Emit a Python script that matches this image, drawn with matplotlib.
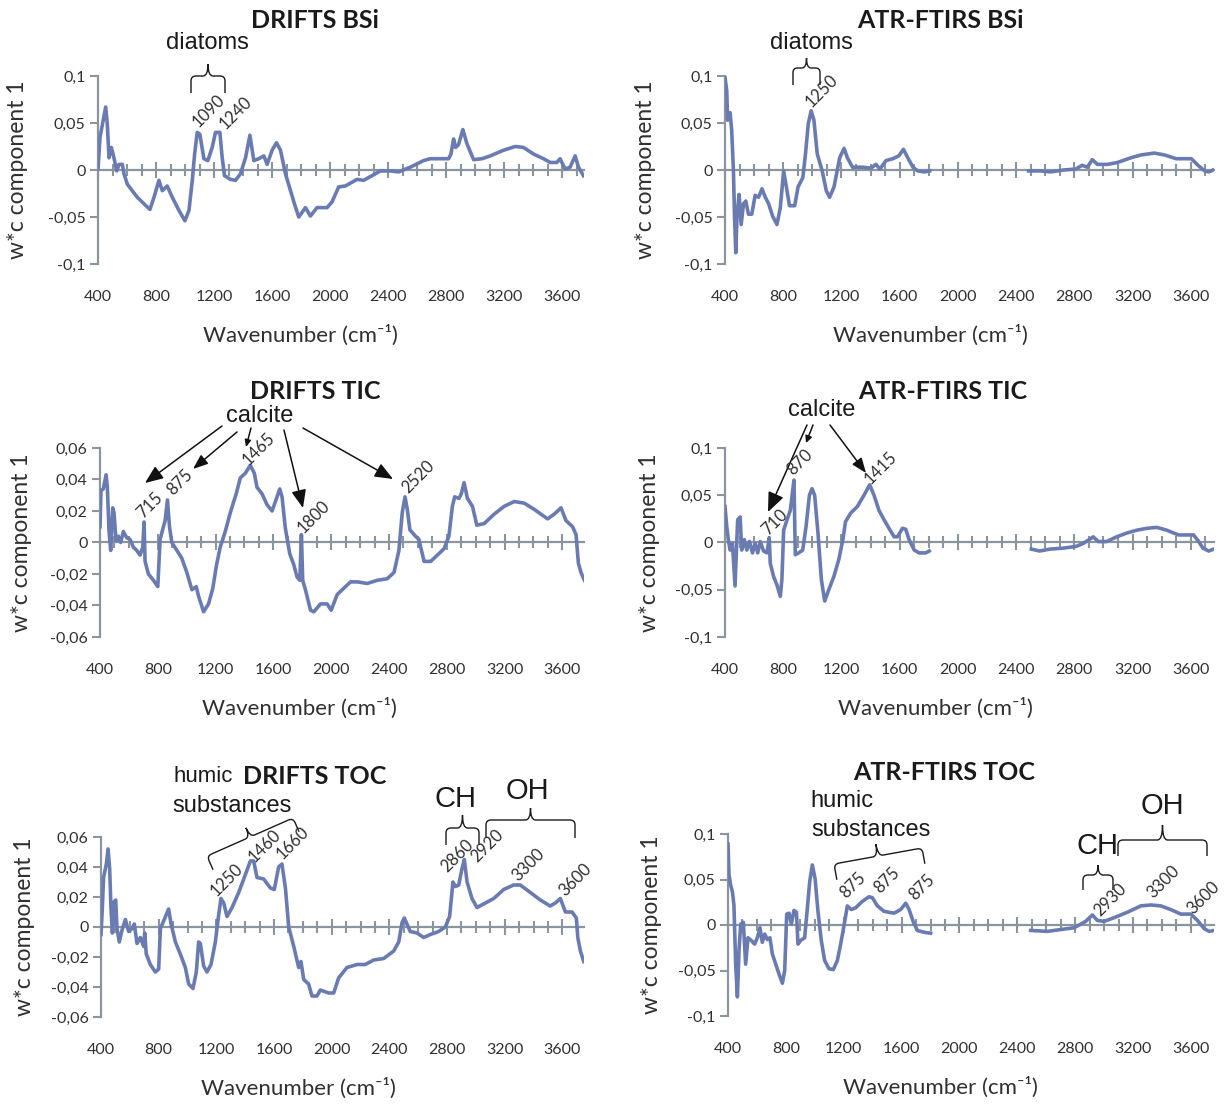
import numpy as np
import matplotlib
matplotlib.use("Agg")
import matplotlib.pyplot as plt
import matplotlib.transforms as mtransforms
from matplotlib.path import Path
from matplotlib.patches import PathPatch, FancyArrowPatch
from matplotlib.ticker import MultipleLocator

plt.rcParams['font.family'] = ['Lato', 'DejaVu Sans']

# ---- data (wavenumber in cm-1, w*c component 1) ----
drifts_bsi_wn = [400, 414, 453, 464, 476, 492, 510, 529, 545, 568, 579, 602, 636, 671, 717, 758, 786, 820, 843, 877,
                 912, 958, 999, 1027, 1050, 1066, 1084, 1102, 1130, 1157, 1187, 1210, 1240, 1256, 1272, 1313, 1348, 1382, 1417, 1447,
                 1474, 1508, 1543, 1566, 1600, 1630, 1658, 1692, 1727, 1754, 1784, 1830, 1864, 1910, 1979, 2013, 2059, 2105, 2151, 2185,
                 2231, 2289, 2346, 2415, 2472, 2553, 2644, 2690, 2817, 2833, 2851, 2865, 2885, 2915, 2943, 2989, 3046, 3104, 3195, 3276,
                 3333, 3402, 3471, 3517, 3562, 3585, 3620, 3654, 3689, 3712, 3746]
drifts_bsi = [0.001, 0.035, 0.067, 0.049, 0.013, 0.024, 0.013, -0.001, 0.006, 0.006, -0.004, -0.015, -0.022, -0.029, -0.036, -0.042, -0.029, -0.011, -0.022, -0.017,
              -0.029, -0.043, -0.054, -0.043, -0.011, 0.017, 0.040, 0.038, 0.012, 0.010, 0.024, 0.040, 0.040, 0.013, -0.006, -0.010, -0.011, -0.004, 0.013, 0.037,
              0.010, 0.012, 0.015, 0.006, 0.021, 0.029, 0.021, -0.004, -0.022, -0.036, -0.050, -0.040, -0.049, -0.040, -0.040, -0.034, -0.018, -0.017, -0.013, -0.010,
              -0.011, -0.006, -0.001, -0.001, -0.002, 0.003, 0.010, 0.012, 0.012, 0.017, 0.033, 0.024, 0.027, 0.043, 0.028, 0.011, 0.012, 0.015, 0.021, 0.025,
              0.024, 0.017, 0.012, 0.008, 0.008, 0.012, 0.001, 0.003, 0.015, 0.003, -0.006]

atr_bsi_wn_a = [400, 412, 418, 435, 446, 458, 465, 474, 483, 497, 511, 527, 543, 561, 584, 607, 631, 654, 677, 700,
                727, 757, 780, 803, 826, 843, 879, 902, 935, 953, 972, 992, 1011, 1034, 1068, 1096, 1119, 1149, 1188, 1218,
                1241, 1276, 1345, 1403, 1437, 1465, 1506, 1553, 1594, 1626, 1656, 1691, 1725, 1771, 1806]
atr_bsi_a = [0.099, 0.084, 0.053, 0.061, 0.042, -0.001, -0.047, -0.088, -0.047, -0.026, -0.058, -0.036, -0.033, -0.047, -0.047, -0.027, -0.029, -0.020, -0.029, -0.036,
             -0.049, -0.058, -0.040, -0.001, -0.022, -0.038, -0.038, -0.018, -0.008, 0.017, 0.049, 0.063, 0.053, 0.017, -0.001, -0.022, -0.029, -0.018, 0.013, 0.023,
             0.013, 0.003, 0.003, 0.002, 0.006, 0.001, 0.010, 0.012, 0.015, 0.022, 0.013, 0.003, -0.001, -0.002, -0.001]
atr_bsi_wn_b = [2486, 2567, 2636, 2728, 2809, 2855, 2889, 2924, 2959, 3028, 3097, 3189, 3258, 3350, 3420, 3500, 3604, 3650, 3696, 3724, 3754]
atr_bsi_b = [-0.001, -0.001, -0.002, 0.000, 0.001, 0.005, 0.003, 0.011, 0.006, 0.006, 0.008, 0.013, 0.016, 0.018, 0.016, 0.012, 0.012, 0.005, -0.001, -0.002, 0.000]

drifts_tic_wn = [400, 407, 423, 442, 451, 462, 474, 488, 497, 511, 527, 543, 562, 585, 608, 631, 654, 677, 696, 705,
                 712, 735, 770, 800, 816, 839, 851, 867, 881, 897, 932, 966, 1001, 1036, 1066, 1082, 1117, 1151, 1181, 1205,
                 1232, 1267, 1302, 1343, 1371, 1406, 1440, 1468, 1487, 1521, 1556, 1591, 1614, 1644, 1660, 1683, 1713, 1741, 1764, 1783,
                 1794, 1803, 1822, 1857, 1880, 1926, 1972, 2000, 2042, 2088, 2134, 2180, 2250, 2319, 2388, 2435, 2469, 2492, 2511, 2527,
                 2545, 2584, 2607, 2643, 2689, 2735, 2781, 2815, 2839, 2855, 2885, 2901, 2920, 2943, 2978, 3008, 3059, 3128, 3198, 3267,
                 3336, 3406, 3498, 3544, 3591, 3625, 3671, 3695, 3711, 3729, 3753]
drifts_tic = [0.010, 0.033, 0.034, 0.043, 0.035, 0.008, -0.005, 0.022, 0.019, 0.001, 0.004, 0.000, 0.007, 0.003, 0.002, -0.003, -0.005, -0.008, -0.003, 0.013,
              -0.012, -0.020, -0.024, -0.028, 0.002, 0.010, 0.014, 0.027, 0.010, 0.000, -0.005, -0.010, -0.019, -0.030, -0.028, -0.034, -0.044, -0.039, -0.029, -0.015,
              -0.003, 0.007, 0.019, 0.031, 0.041, 0.044, 0.049, 0.044, 0.035, 0.031, 0.024, 0.020, 0.026, 0.034, 0.029, 0.009, -0.007, -0.014, -0.022, -0.024,
              0.005, -0.024, -0.030, -0.043, -0.044, -0.039, -0.039, -0.043, -0.033, -0.029, -0.025, -0.025, -0.026, -0.024, -0.023, -0.019, -0.005, 0.019, 0.029, 0.021,
              0.008, 0.004, 0.002, -0.012, -0.012, -0.008, -0.004, 0.004, 0.023, 0.029, 0.028, 0.031, 0.038, 0.028, 0.023, 0.011, 0.012, 0.018, 0.023, 0.026,
              0.025, 0.021, 0.015, 0.018, 0.022, 0.014, 0.010, 0.005, -0.013, -0.019, -0.024]

atr_tic_wn_a = [400, 412, 423, 435, 451, 469, 487, 504, 515, 533, 550, 568, 589, 607, 625, 642, 665, 688, 704, 711,
                734, 757, 780, 791, 803, 826, 849, 865, 874, 883, 906, 934, 957, 980, 998, 1016, 1039, 1062, 1085, 1113,
                1148, 1182, 1210, 1228, 1263, 1309, 1355, 1394, 1424, 1458, 1493, 1527, 1562, 1585, 1619, 1642, 1665, 1700, 1734, 1780, 1803]
atr_tic_a = [0.038, 0.017, 0.003, -0.008, -0.001, -0.046, 0.024, 0.027, -0.008, 0.003, -0.008, 0.001, -0.011, -0.001, -0.011, 0.001, -0.009, -0.011, 0.005, -0.022,
             -0.036, -0.045, -0.057, -0.039, 0.013, 0.024, 0.034, 0.055, 0.066, -0.013, -0.011, -0.008, 0.017, 0.050, 0.057, 0.050, 0.010, -0.039, -0.062, -0.050,
             -0.036, -0.018, 0.003, 0.022, 0.031, 0.038, 0.050, 0.061, 0.050, 0.034, 0.024, 0.015, 0.006, 0.006, 0.015, 0.014, 0.003, -0.008, -0.011, -0.011, -0.009]
atr_tic_wn_b = [2505, 2562, 2631, 2723, 2815, 2861, 2902, 2930, 2965, 3022, 3091, 3160, 3229, 3298, 3367, 3436, 3516, 3620, 3655, 3684, 3724, 3758]
atr_tic_b = [-0.007, -0.009, -0.007, -0.006, -0.004, -0.001, 0.003, 0.006, 0.001, 0.001, 0.006, 0.010, 0.013, 0.015, 0.016, 0.013, 0.008, 0.008, 0.001, -0.006, -0.009, -0.007]

drifts_toc_wn = [400, 407, 418, 437, 449, 460, 469, 479, 492, 502, 511, 527, 546, 569, 592, 615, 631, 650, 673, 696,
                 703, 714, 742, 777, 800, 812, 839, 869, 886, 916, 950, 985, 1008, 1038, 1061, 1077, 1089, 1112, 1135, 1163,
                 1193, 1216, 1232, 1251, 1274, 1309, 1355, 1394, 1436, 1459, 1482, 1528, 1575, 1602, 1632, 1655, 1679, 1702, 1737, 1771,
                 1787, 1806, 1840, 1863, 1898, 1921, 1979, 2014, 2048, 2106, 2176, 2233, 2291, 2361, 2430, 2465, 2488, 2504, 2522, 2545,
                 2592, 2638, 2684, 2742, 2788, 2818, 2841, 2858, 2881, 2904, 2920, 2939, 2973, 3008, 3066, 3124, 3193, 3262, 3308, 3378,
                 3447, 3516, 3551, 3586, 3621, 3667, 3697, 3707, 3725, 3748]
drifts_toc = [-0.005, 0.008, 0.033, 0.042, 0.052, 0.039, 0.013, -0.004, 0.017, 0.018, -0.001, -0.010, -0.002, 0.005, -0.003, -0.001, 0.002, -0.011, -0.007, -0.013,
              -0.004, -0.018, -0.025, -0.030, -0.028, -0.001, 0.005, 0.012, 0.002, -0.010, -0.018, -0.027, -0.038, -0.041, -0.030, -0.010, -0.011, -0.026, -0.030, -0.025,
              -0.010, 0.008, 0.019, 0.016, 0.007, 0.013, 0.023, 0.033, 0.044, 0.044, 0.033, 0.032, 0.026, 0.025, 0.040, 0.042, 0.026, 0.000, -0.013, -0.027,
              -0.023, -0.035, -0.038, -0.046, -0.046, -0.042, -0.044, -0.044, -0.034, -0.027, -0.025, -0.025, -0.022, -0.021, -0.016, -0.010, 0.003, 0.006, 0.002, -0.003,
              -0.004, -0.007, -0.005, -0.003, 0.000, 0.007, 0.030, 0.027, 0.028, 0.039, 0.045, 0.030, 0.019, 0.013, 0.016, 0.019, 0.025, 0.028, 0.028, 0.023,
              0.018, 0.014, 0.016, 0.019, 0.010, 0.010, 0.006, -0.007, -0.016, -0.023]

atr_toc_wn_a = [400, 407, 418, 430, 441, 453, 465, 476, 488, 506, 522, 538, 561, 584, 603, 621, 637, 654, 672, 690,
                707, 730, 753, 776, 792, 806, 822, 838, 856, 873, 884, 902, 930, 949, 965, 983, 1002, 1022, 1045, 1068,
                1098, 1128, 1156, 1179, 1207, 1225, 1253, 1283, 1329, 1375, 1398, 1433, 1479, 1548, 1594, 1629, 1652, 1682, 1710, 1755, 1801]
atr_toc_a = [0.089, 0.055, 0.044, 0.037, 0.022, -0.043, -0.079, -0.028, 0.001, 0.003, -0.043, -0.014, -0.017, -0.021, -0.014, -0.003, -0.019, -0.010, -0.016, -0.014,
             -0.032, -0.043, -0.054, -0.064, -0.050, 0.012, 0.013, 0.001, 0.016, 0.014, -0.021, -0.017, -0.014, 0.019, 0.048, 0.066, 0.051, 0.015, -0.017, -0.039,
             -0.048, -0.049, -0.039, -0.021, 0.004, 0.021, 0.017, 0.019, 0.026, 0.031, 0.030, 0.021, 0.015, 0.013, 0.017, 0.024, 0.017, 0.003, -0.006, -0.008, -0.009]
atr_toc_wn_b = [2493, 2608, 2700, 2793, 2839, 2873, 2919, 2954, 3000, 3069, 3161, 3254, 3323, 3392, 3461, 3530, 3600, 3646, 3692, 3726, 3760]
atr_toc_b = [-0.006, -0.007, -0.005, -0.003, 0.001, 0.004, 0.011, 0.005, 0.004, 0.008, 0.014, 0.021, 0.022, 0.021, 0.017, 0.012, 0.012, 0.005, -0.004, -0.007, -0.006]

x_ticks = [400, 800, 1200, 1600, 2000, 2400, 2800, 3200, 3600]
y_ticks_01 = [-0.1, -0.05, 0, 0.05, 0.1]
y_labels_01 = ['-0,1', '-0,05', '0', '0,05', '0,1']
y_ticks_006 = [-0.06, -0.04, -0.02, 0, 0.02, 0.04, 0.06]
y_labels_006 = ['-0,06', '-0,04', '-0,02', '0', '0,02', '0,04', '0,06']

# ---- layout helpers (pixel positions measured from top-left) ----
W, H = 1224, 1104
LINE = '#6A7BB2'
GRAY = '#8A959E'
TXT = '#303030'
ANN = 'Liberation Sans'

fig = plt.figure(figsize=(W / 100, H / 100), dpi=100)
px = mtransforms.Affine2D().scale(1 / W, -1 / H).translate(0, 1) + fig.transFigure


def ftext(x, y, s, **kw):
    fig.text(x / W, 1 - y / H, s, ha='center', va='center', **kw)


def panel(rect, segs, yticks, ylabels, xmax, ylab_x, title, title_xy, xlab_x):
    l, t, r, b = rect
    ax = fig.add_axes([l / W, 1 - b / H, (r - l) / W, (b - t) / H])
    for wn, val in segs:
        ax.plot(wn, val, color=LINE, lw=2.6, zorder=3, solid_joinstyle='round')
    ax.set_xlim(400, xmax)
    ax.set_ylim(yticks[0], yticks[-1])
    ax.patch.set_visible(False)
    ax.spines[['top', 'right']].set_visible(False)
    ax.spines['bottom'].set_position(('data', 0))
    for s in ('left', 'bottom'):
        ax.spines[s].set_color(GRAY)
        ax.spines[s].set_linewidth(1.6)
    ax.xaxis.set_major_locator(MultipleLocator(400))
    ax.xaxis.set_minor_locator(MultipleLocator(100))
    ax.tick_params(axis='x', which='major', direction='inout', length=12, width=1.5, color=GRAY, labelbottom=False)
    ax.tick_params(axis='x', which='minor', direction='inout', length=9, width=1.5, color=GRAY)
    ax.set_yticks(yticks)
    ax.set_yticklabels(ylabels)
    ax.tick_params(axis='y', direction='out', length=6, width=1.5, color=GRAY, labelsize=11.5, labelcolor=TXT, pad=3)
    sec = ax.secondary_xaxis('bottom')
    sec.set_xticks(x_ticks)
    sec.tick_params(length=0, pad=18.5, labelsize=11.5, labelcolor=TXT)
    sec.spines['bottom'].set_visible(False)
    ftext(ylab_x, (t + b) / 2, 'w*c component 1', rotation=90, fontsize=16.5, color=TXT)
    ftext(xlab_x, b + 71, 'Wavenumber (cm\u207b\u00b9)', fontsize=16, color=TXT)
    ftext(title_xy[0], title_xy[1], title, fontsize=18, fontweight='bold', color='#1a1a1a')
    return ax


def brace(p0, p1, leg, tip, lw=1.0):
    p0 = np.array(p0, float)
    p1 = np.array(p1, float)
    d = p1 - p0
    L = np.hypot(*d)
    u = d / L
    n = np.array([u[1], -u[0]])
    r = min(5.0, L / 6)
    loc = [(0, -leg), (0, -r), (0, 0), (r, 0), (L / 2 - r, 0), (L / 2, 0), (L / 2, tip),
           (L / 2, 0), (L / 2 + r, 0), (L - r, 0), (L, 0), (L, -r), (L, -leg)]
    codes = [Path.MOVETO, Path.LINETO, Path.CURVE3, Path.CURVE3, Path.LINETO, Path.CURVE3, Path.CURVE3,
             Path.CURVE3, Path.CURVE3, Path.LINETO, Path.CURVE3, Path.CURVE3, Path.LINETO]
    pts = [p0 + s * u + t * n for s, t in loc]
    fig.add_artist(PathPatch(Path(pts, codes), transform=px, fill=False, lw=lw, ec='#1a1a1a'))


def arrow(a, b, hl, hw):
    fig.add_artist(FancyArrowPatch(a, b, transform=px, lw=1.1, color='#111111', shrinkA=0, shrinkB=0,
                                   arrowstyle=f'-|>,head_length={hl},head_width={hw}'))


def peak_labels(items, size=12):
    for s, x, y in items:
        ftext(x, y, s, rotation=45, fontsize=size, color=TXT)


# ---- panels ----
panel((98, 76, 584, 264), [(drifts_bsi_wn, drifts_bsi)], y_ticks_01, y_labels_01, 3750, 18,
      'DRIFTS BSi', (315, 20), 300)
panel((725, 76, 1214, 264), [(atr_bsi_wn_a, atr_bsi_a), (atr_bsi_wn_b, atr_bsi_b)], y_ticks_01, y_labels_01, 3760, 645,
      'ATR-FTIRS BSi', (940, 20), 930)
panel((100, 448, 584, 637), [(drifts_tic_wn, drifts_tic)], y_ticks_006, y_labels_006, 3750, 22,
      'DRIFTS TIC', (315, 391), 299)
panel((725, 448, 1214, 637), [(atr_tic_wn_a, atr_tic_a), (atr_tic_wn_b, atr_tic_b)], y_ticks_01, y_labels_01, 3760, 650,
      'ATR-FTIRS TIC', (943, 391), 935)
panel((101, 837, 584, 1017), [(drifts_toc_wn, drifts_toc)], y_ticks_006, y_labels_006, 3750, 25,
      'DRIFTS TOC', (315, 777), 298)
panel((728, 834, 1214, 1016), [(atr_toc_wn_a, atr_toc_a), (atr_toc_wn_b, atr_toc_b)], y_ticks_01, y_labels_01, 3760, 652,
      'ATR-FTIRS TOC', (944, 773), 940)

# ---- annotations ----
# BSi
ftext(207, 43, 'diatoms', fontsize=17, family=ANN, color='#1a1a1a')
brace((191, 76), (225, 76), 17, 12)
peak_labels([('1090', 209, 111), ('1240', 236, 113)])
ftext(811, 43, 'diatoms', fontsize=17, family=ANN, color='#1a1a1a')
brace((793, 68), (820, 68), 17, 10)
peak_labels([('1250', 822, 91)])

# TIC
ftext(260, 416, 'calcite', fontsize=17, family=ANN, color='#1a1a1a')
arrow((222, 426), (145, 483), 11, 4.5)
arrow((237, 432), (193, 469), 9, 3.5)
arrow((251, 428), (246, 447), 4, 1.8)
arrow((284, 430), (303, 508), 11, 4.5)
arrow((303, 428), (393, 479), 11, 4.5)
peak_labels([('715', 150, 505), ('875', 180, 482), ('1465', 259, 449), ('1800', 314, 517), ('2520', 418, 477)])
ftext(822, 410, 'calcite', fontsize=17, family=ANN, color='#1a1a1a')
arrow((807, 425), (768, 512), 12, 5)
arrow((813, 425), (806, 443), 4, 2)
arrow((830, 425), (866, 473), 9, 3.5)
peak_labels([('710', 775, 522), ('870', 800, 462), ('1415', 881, 468)])

# TOC
ftext(203, 776, 'humic', fontsize=16, family=ANN, color='#1a1a1a')
ftext(232, 806, 'substances', fontsize=17, family=ANN, color='#1a1a1a')
brace((207, 856), (293, 818), 15, 10)
ftext(456, 799, 'CH', fontsize=21, family=ANN, color='#1a1a1a')
ftext(527, 791, 'OH', fontsize=21, family=ANN, color='#1a1a1a')
brace((446, 828), (479, 828), 17, 13)
brace((486, 820), (575, 820), 18, 12)
peak_labels([('1250', 227, 880), ('1460', 265, 846), ('1660', 293, 843), ('2860', 457, 856),
             ('2920', 487, 846), ('3300', 528, 865), ('3600', 575, 880)])

ftext(842, 801, 'humic', fontsize=17, family=ANN, color='#1a1a1a')
ftext(871, 830, 'substances', fontsize=17, family=ANN, color='#1a1a1a')
brace((834, 864), (922, 848), 16, 12)
ftext(1098, 846, 'CH', fontsize=21, family=ANN, color='#1a1a1a')
ftext(1162, 806, 'OH', fontsize=21, family=ANN, color='#1a1a1a')
brace((1083, 875), (1113, 875), 15, 10)
brace((1118, 840), (1207, 840), 16, 15)
peak_labels([('875', 853, 885), ('875', 887, 880), ('875', 922, 887), ('2930', 1110, 900),
             ('3300', 1163, 882), ('3600', 1203, 898)])

fig.savefig('out.png', dpi=100)
